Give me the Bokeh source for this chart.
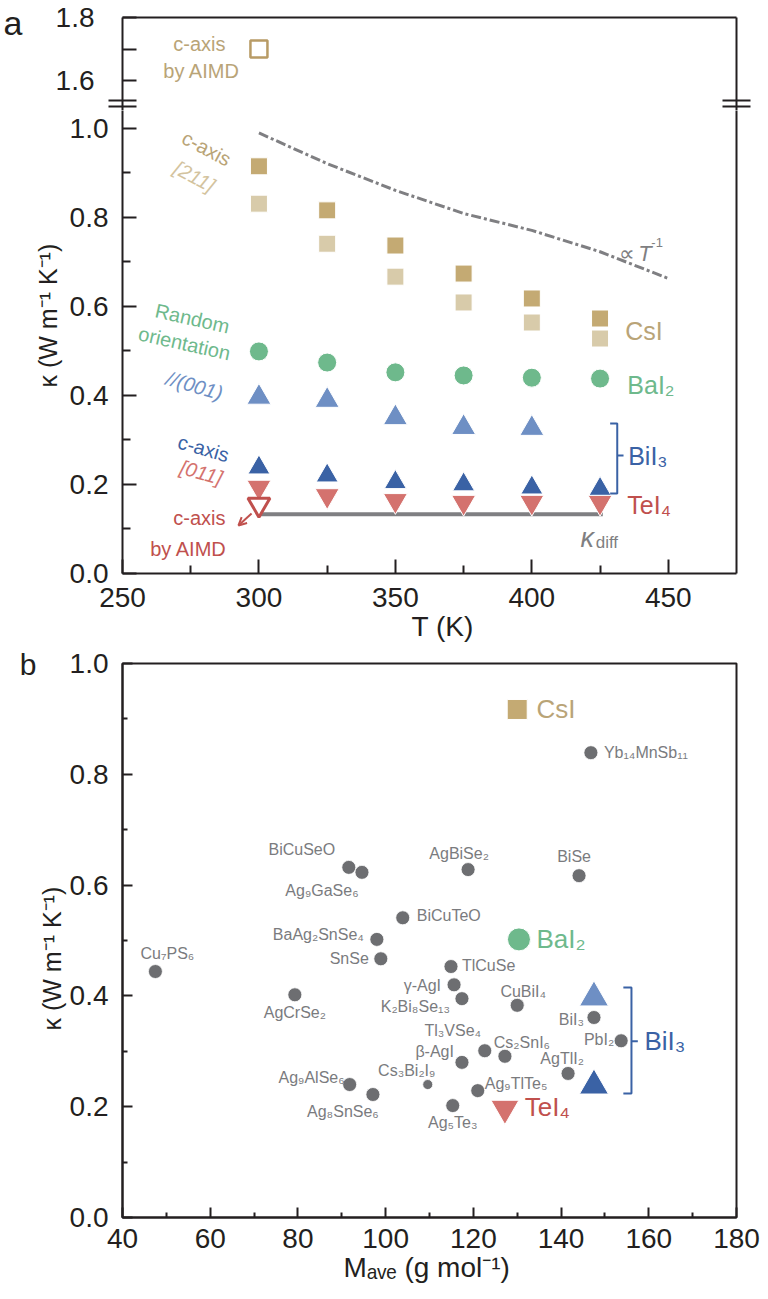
import math
from bokeh.plotting import figure
from bokeh.models import (ColumnDataSource, Label, LinearAxis, FixedTicker, Title,
                          NumeralTickFormatter, Arrow, OpenHead, Range1d)
from bokeh.layouts import column
from bokeh.embed import file_html
from bokeh.resources import INLINE
from bokeh.core.properties import value

FONT = "Liberation Sans"
INK = "#231F20"
TAN = "#C4AA73"
LTAN = "#D8CBAA"
TAN_TXT = "#B9A477"
LTAN_TXT = "#D3C39E"
GREEN = "#6EB98C"
LBLUE = "#6E8FC4"
DBLUE = "#3A62A5"
SALMON = "#D4726E"
DRED = "#C0504D"
GRAY = "#6D6E71"
GRAY_TXT = "#7A7B7E"
LINE_GRAY = "#7F7F82"

# ---------------- panel a data ----------------
T = [300, 325, 350, 375, 400, 425]
T_001 = [300, 325, 350, 375, 400]
csi_caxis = [0.915, 0.816, 0.737, 0.674, 0.618, 0.573]
csi_211 = [0.831, 0.741, 0.667, 0.609, 0.564, 0.528]
bai2_random = [0.499, 0.474, 0.452, 0.445, 0.440, 0.438]
bii3_001 = [0.396, 0.389, 0.350, 0.328, 0.326]
bii3_caxis = [0.238, 0.220, 0.205, 0.200, 0.193, 0.190]
tei4_011 = [0.194, 0.175, 0.164, 0.160, 0.160, 0.160]
T_aimd = [300]
csi_aimd = [1.70]
tei4_aimd = [0.155]
T_ref = [300, 325, 350, 375, 400, 425, 450]
kappa_ref = [0.990, 0.921, 0.861, 0.809, 0.771, 0.723, 0.663]
T_diff = [300, 426]
kappa_diff = [0.133, 0.133]
a_xticks = [250, 300, 350, 400, 450]
a_xminor = [275, 325, 375, 425]
a_yticks = [0.0, 0.2, 0.4, 0.6, 0.8, 1.0]
a_yminor = [0.1, 0.3, 0.5, 0.7, 0.9]
a_yticks_up = [1.6, 1.7, 1.8]
a_ybreak = [1.5365, 1.5175]

# ---------------- panel b data ----------------
mat_names = ["Yb₁₄MnSb₁₁", "AgBiSe₂", "BiSe", "BiCuSeO", "Ag₉GaSe₆", "BiCuTeO",
             "BaAg₂SnSe₄", "SnSe", "Cu₇PS₆", "TlCuSe", "γ-AgI", "K₂Bi₈Se₁₃",
             "CuBiI₄", "AgCrSe₂", "BiI₃", "PbI₂", "Tl₃VSe₄", "Cs₂SnI₆", "β-AgI",
             "AgTlI₂", "Cs₃Bi₂I₉", "Ag₉AlSe₆", "Ag₈SnSe₆", "Ag₉TlTe₅", "Ag₅Te₃"]
mat_mave = [146.8, 118.8, 144.1, 91.6, 94.6, 103.9, 98.0, 98.9, 47.5, 114.9, 115.6, 117.4,
            130.0, 79.3, 147.5, 153.7, 122.6, 127.2, 117.4, 141.6, 109.6, 91.8, 97.1, 121.0, 115.3]
mat_kappa = [0.839, 0.628, 0.617, 0.632, 0.623, 0.541, 0.502, 0.467, 0.444, 0.453, 0.420, 0.395,
             0.383, 0.402, 0.361, 0.319, 0.301, 0.291, 0.280, 0.260, 0.240, 0.240, 0.222, 0.229, 0.202]
csi_b_m, csi_b_k = [130.0], [0.917]
bai2_b_m, bai2_b_k = [130.4], [0.502]
bii3_b_m, bii3_b_k001, bii3_b_kc = [147.5], [0.397], [0.238]
tei4_b_m, tei4_b_k = [127.2], [0.197]
b_xticks = [40, 60, 80, 100, 120, 140, 160, 180]
b_xminor = [50, 70, 90, 110, 130, 150, 170]
b_yticks = [0.0, 0.2, 0.4, 0.6, 0.8, 1.0]
b_yminor = [0.1, 0.3, 0.5, 0.7, 0.9]

# label styling (screen px offsets, up positive) - kept apart from values
lab_dx = [13, -9, -5, -47, -40, 14, -13, -12, 12, 11, -13, -12, 6, 0, -10, -7, -32, 17, -8, -6, -21, -5, -30, 7, 0]
lab_dy = [0, 16, 19, 18, -18, 2, 5, 0, 18, 1, -1, -8, 14, -18, -2, 1, 20, 14, 11, 15, 14, 7, -17, 7, -17]
lab_align = ["left", "center", "center", "center", "center", "left", "right", "right", "center",
             "left", "right", "right", "center", "center", "right", "right", "center", "center",
             "right", "center", "center", "right", "center", "left", "center"]
mat_msize = [14] * 20 + [10] + [14] * 4


def style_axis(ax, major_in, minor_in, size="28px", standoff=14):
    ax.axis_line_width = 2
    ax.axis_line_color = INK
    ax.major_tick_in = major_in
    ax.major_tick_out = 0
    ax.minor_tick_in = minor_in
    ax.minor_tick_out = 0
    ax.major_tick_line_width = 2
    ax.minor_tick_line_width = 2
    ax.major_tick_line_color = INK
    ax.minor_tick_line_color = INK
    ax.major_label_text_font = FONT
    ax.major_label_text_font_size = size
    ax.major_label_text_color = INK
    ax.major_label_standoff = standoff


def blank_axis(p, loc, breaks=()):
    ax = LinearAxis(ticker=FixedTicker(ticks=[], minor_ticks=list(breaks)),
                    axis_line_width=2, axis_line_color=INK,
                    major_tick_line_color=None, minor_tick_line_color=INK, minor_tick_line_width=2,
                    major_tick_in=0, major_tick_out=0,
                    minor_tick_in=14, minor_tick_out=14,
                    major_label_text_font_size="0px", major_label_standoff=0)
    p.add_layout(ax, loc)


def text_axis(p, loc, tick, text, size, standoff):
    ax = LinearAxis(ticker=FixedTicker(ticks=list(tick)),
                    major_label_overrides={t: s for t, s in zip(tick, text)},
                    axis_line_color=None, major_tick_line_color=None, minor_tick_line_color=None,
                    major_tick_in=0, major_tick_out=0, minor_tick_in=0, minor_tick_out=0,
                    major_label_text_font=FONT, major_label_text_font_size=f"{size}px",
                    major_label_text_color=INK, major_label_standoff=standoff)
    p.add_layout(ax, loc)


def side_title(p, loc, text, offset, standoff, size=28, valign="middle"):
    p.add_layout(Title(text=text, align="left", offset=offset, standoff=standoff,
                       vertical_align=valign, text_font=FONT, text_font_size=f"{size}px",
                       text_font_style="normal", text_color=INK), loc)


def lab(p, x, y, text, size, color, align="left", baseline="middle", angle=0.0, style="normal"):
    p.add_layout(Label(x=x, y=y, text=text, text_font=FONT, text_font_size=f"{size}px",
                       text_color=color, text_align=align, text_baseline=baseline,
                       angle=angle, text_font_style=style))


def base_fig(fw, fh, xr, yr, top, bottom, xloc):
    p = figure(frame_width=fw, frame_height=fh, x_range=xr, y_range=yr,
               min_border_top=top, min_border_bottom=bottom, min_border_left=121, min_border_right=33,
               output_backend="svg", toolbar_location=None, x_axis_location=xloc,
               y_axis_location="left", background_fill_color="white", border_fill_color="white")
    p.xgrid.visible = False
    p.ygrid.visible = False
    return p


# ================= panel a, upper (broken) part =================
fu = base_fig(614, 93, Range1d(250, 475), Range1d(1.5048, 1.8), 17, 0, None)
fu.outline_line_color = None
fu.yaxis.ticker = FixedTicker(ticks=a_yticks_up, minor_ticks=a_ybreak)
fu.yaxis.formatter = NumeralTickFormatter(format="0.0")
style_axis(fu.yaxis[0], 14, 14)
fu.yaxis.minor_tick_out = 14
fu.yaxis.major_label_overrides = {1.7: ""}
blank_axis(fu, "above")
blank_axis(fu, "right", a_ybreak)
text_axis(fu, "left", [1.784], ["a"], 34, 30)
fu.scatter(T_aimd, csi_aimd, marker="square", size=17, fill_color="white",
           line_color="#B89B65", line_width=2.5)
lab(fu, 278.2, 1.717, "c-axis", 20, TAN_TXT, align="center")
lab(fu, 279.0, 1.629, "by AIMD", 20, TAN_TXT, align="center")

# ================= panel a, lower part =================
fl = base_fig(614, 463, Range1d(250, 475), Range1d(0, 1.0404), 0, 74, "below")
fl.outline_line_color = None
fl.xaxis.ticker = FixedTicker(ticks=a_xticks, minor_ticks=a_xminor)
fl.yaxis.ticker = FixedTicker(ticks=a_yticks, minor_ticks=a_yminor)
fl.yaxis.formatter = NumeralTickFormatter(format="0.0")
style_axis(fl.xaxis[0], 14, 8, standoff=14)
style_axis(fl.yaxis[0], 14, 8)
blank_axis(fl, "right")
side_title(fl, "left", "κ (W m⁻¹ K⁻¹)", 186, 8, size=25)
side_title(fl, "below", "T (K)", 289, 0)

fl.line(T_ref, kappa_ref, line_color=LINE_GRAY, line_width=3, line_dash="10 3 3 3")
fl.line(T_diff, kappa_diff, line_color=LINE_GRAY, line_width=4)
fl.scatter(T, csi_211, marker="square", size=17, fill_color=LTAN, line_color="white", line_width=1)
fl.scatter(T, csi_caxis, marker="square", size=17, fill_color=TAN, line_color="white", line_width=1)
fl.scatter(T, bai2_random, marker="circle", size=19, fill_color=GREEN, line_color="white", line_width=1)
fl.scatter(T_001, bii3_001, marker="triangle", size=24, fill_color=LBLUE, line_color="white", line_width=1)
fl.scatter(T, tei4_011, marker="inverted_triangle", size=24, fill_color=SALMON, line_color="white", line_width=1)
fl.scatter(T, bii3_caxis, marker="triangle", size=22, fill_color=DBLUE, line_color="white", line_width=1)
fl.scatter(T_aimd, tei4_aimd, marker="inverted_triangle", size=22, fill_color="white",
           line_color=DRED, line_width=3)

# bracket for BiI3
fl.multi_line(xs=[[428.7, 431.3, 431.3, 428.7], [431.3, 433.6]],
              ys=[[0.337, 0.337, 0.180, 0.180], [0.265, 0.265]], line_color=DBLUE, line_width=2)

# annotations panel a
lab(fl, 280.8, 0.955, "c-axis", 20, TAN_TXT, align="center", angle=-0.49)
lab(fl, 276.4, 0.892, "[211]", 20, LTAN_TXT, align="center", angle=-0.49, style="italic")
lab(fl, 275.6, 0.573, "Random", 20, GREEN, align="center", angle=-0.22)
lab(fl, 272.7, 0.517, "orientation", 20, GREEN, align="center", angle=-0.22)
lab(fl, 276.4, 0.422, "//(001)", 20, LBLUE, align="center", angle=-0.28, style="italic")
lab(fl, 279.7, 0.281, "c-axis", 20, DBLUE, align="center", angle=-0.28)
lab(fl, 278.9, 0.227, "[011]", 20, SALMON, align="center", angle=-0.28, style="italic")
lab(fl, 278.2, 0.124, "c-axis", 20, DRED, align="center")
lab(fl, 274.2, 0.056, "by AIMD", 20, DRED, align="center")
fl.add_layout(Arrow(end=OpenHead(size=8, line_color=DRED, line_width=2),
                    x_start=297.3, y_start=0.135, x_end=292.5, y_end=0.108,
                    line_color=DRED, line_width=2))
lab(fl, 434.2, 0.544, "CsI", 25, TAN_TXT)
lab(fl, 435.0, 0.424, "BaI₂", 25, GREEN)
lab(fl, 435.3, 0.265, "BiI₃", 25, DBLUE)
lab(fl, 435.0, 0.153, "TeI₄", 25, DRED)
lab(fl, 417.8, 0.079, "κ", 27, LINE_GRAY, style="italic")
lab(fl, 423.4, 0.070, "diff", 17, LINE_GRAY)
lab(fl, 432.0, 0.719, "∝", 22, LINE_GRAY)
lab(fl, 439.0, 0.719, "T", 22, LINE_GRAY, style="italic")
lab(fl, 443.8, 0.744, "-1", 13, LINE_GRAY)

# ================= panel b =================
fb = base_fig(614, 554, Range1d(40, 180), Range1d(0, 1.0), 16, 82, "below")
fb.outline_line_color = INK
fb.outline_line_width = 2
fb.xaxis.ticker = FixedTicker(ticks=b_xticks, minor_ticks=b_xminor)
fb.yaxis.ticker = FixedTicker(ticks=b_yticks, minor_ticks=b_yminor)
fb.yaxis.formatter = NumeralTickFormatter(format="0.0")
style_axis(fb.xaxis[0], 10, 5, standoff=11)
style_axis(fb.yaxis[0], 10, 5)
side_title(fb, "left", "κ (W m⁻¹ K⁻¹)", 187, 0, size=25)
text_axis(fb, "left", [1.0], ["b"], 30, 0)
side_title(fb, "below", "Mₐᵥₑ (g mol⁻¹)", 221, 0)

PPX = 614 / 140.0
PPY = 554 / 1.0
src = ColumnDataSource(dict(
    name=mat_names, m=mat_mave, k=mat_kappa, s=mat_msize,
    lx=[m + dx / PPX for m, dx in zip(mat_mave, lab_dx)],
    ly=[k + dy / PPY for k, dy in zip(mat_kappa, lab_dy)],
))
fb.scatter("m", "k", source=src, marker="circle", size="s", fill_color=GRAY, line_color="white", line_width=0.8)
for al in ("left", "center", "right"):
    idx = [i for i, a in enumerate(lab_align) if a == al]
    s2 = ColumnDataSource(dict(x=[src.data["lx"][i] for i in idx], y=[src.data["ly"][i] for i in idx],
                               t=[mat_names[i] for i in idx]))
    fb.text("x", "y", text="t", source=s2, text_font=value(FONT), text_font_size="16px",
            text_color=GRAY_TXT, text_align=al, text_baseline="middle")

fb.scatter(csi_b_m, csi_b_k, marker="square", size=20, fill_color=TAN, line_color="white", line_width=1)
fb.scatter(bai2_b_m, bai2_b_k, marker="circle", size=23, fill_color=GREEN, line_color="white", line_width=1)
fb.scatter(bii3_b_m, bii3_b_k001, marker="triangle", size=29, fill_color=LBLUE, line_color="white", line_width=1)
fb.scatter(bii3_b_m, bii3_b_kc, marker="triangle", size=29, fill_color=DBLUE, line_color="white", line_width=1)
fb.scatter(tei4_b_m, tei4_b_k, marker="inverted_triangle", size=28, fill_color=SALMON, line_color="white", line_width=1)
fb.multi_line(xs=[[154.2, 156.05, 156.05, 154.2], [156.05, 157.5]],
              ys=[[0.415, 0.415, 0.224, 0.224], [0.318, 0.318]], line_color=DBLUE, line_width=2)
lab(fb, 134.4, 0.917, "CsI", 26, TAN_TXT)
lab(fb, 134.4, 0.503, "BaI₂", 26, GREEN)
lab(fb, 131.7, 0.199, "TeI₄", 26, DRED)
lab(fb, 159.0, 0.318, "BiI₃", 26, DBLUE)

layout = column(fu, fl, fb, spacing=0)
with open("out.html", "w") as f:
    f.write(file_html(layout, INLINE, title="kappa"))
